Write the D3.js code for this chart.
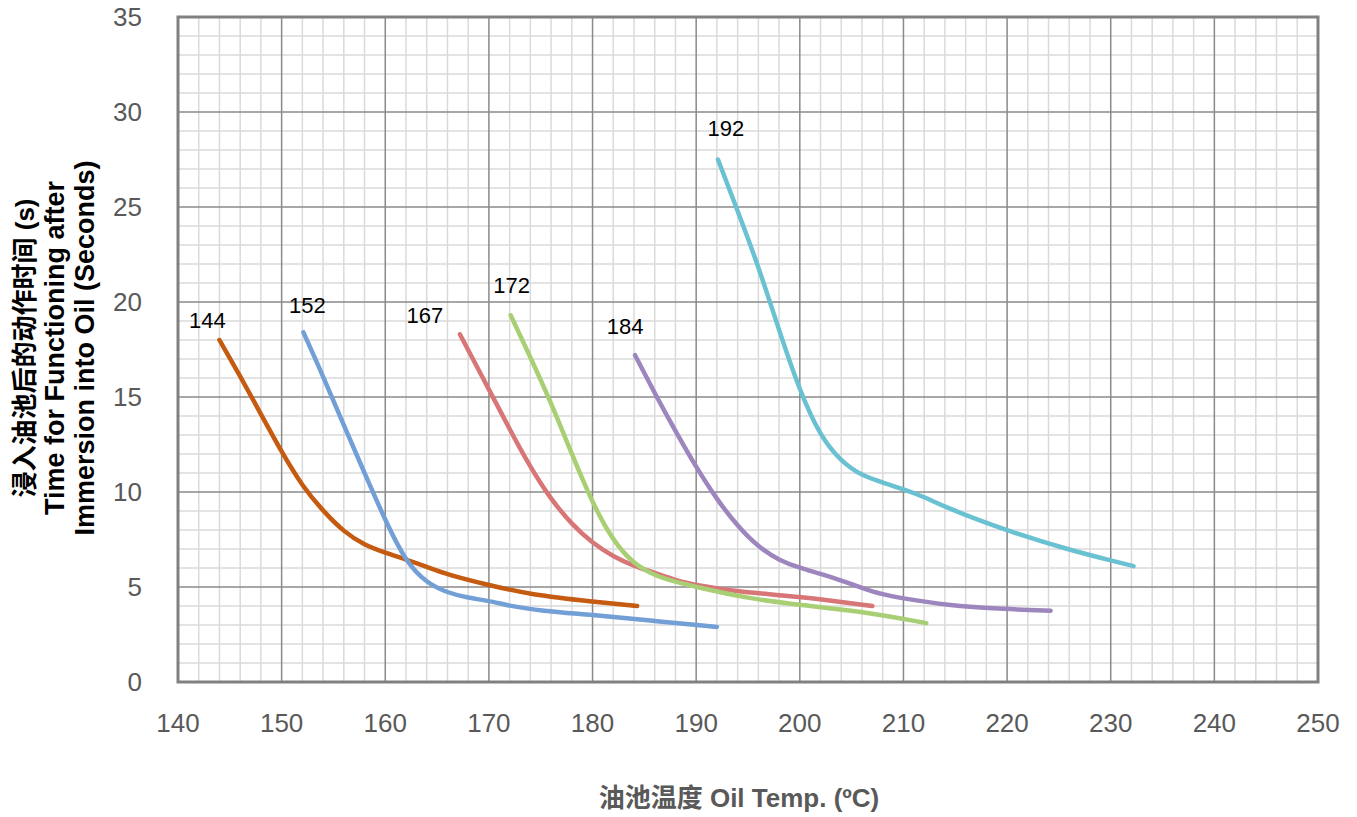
<!DOCTYPE html>
<html lang="zh">
<head>
<meta charset="UTF-8">
<title>Oil immersion functioning time</title>
<script src="https://cdnjs.cloudflare.com/ajax/libs/d3/7.8.5/d3.min.js"></script>
<style>
  body { margin: 0; background: #fff; }
  svg { display: block; font-family: "Liberation Sans", Arial, sans-serif; }
</style>
</head>
<body>
<div id="chart"></div>
<script>
// series data (temperature in degC, time in s)
const t144 = [144, 146, 148, 150, 152, 154, 156, 158, 160, 162, 164, 166, 170, 174, 180, 184.3];
const v144 = [18.0, 16.1, 14.1, 12.1, 10.3, 9.0, 7.9, 7.2, 6.8, 6.45, 6.07, 5.65, 5.1, 4.6, 4.23, 4.0];

const t152 = [152.1, 154, 156, 158, 160, 162, 164, 166, 168, 170, 172, 175, 180, 185, 192];
const v152 = [18.4, 16.1, 13.5, 11.0, 8.5, 6.3, 5.2, 4.7, 4.42, 4.28, 4.0, 3.75, 3.53, 3.26, 2.9];

const t167 = [167.2, 170, 172, 174, 176, 178, 180, 182, 184, 186, 188, 190, 194, 200, 207];
const v167 = [18.3, 15.4, 13.3, 11.3, 9.6, 8.3, 7.3, 6.6, 6.1, 5.75, 5.35, 5.1, 4.75, 4.5, 4.0];

const t172 = [172.1, 174, 176, 178, 180, 182, 184, 186, 188, 190, 195, 200, 206, 212.2];
const v172 = [19.3, 17.1, 14.7, 12.0, 9.4, 7.4, 6.2, 5.6, 5.28, 5.0, 4.4, 4.05, 3.72, 3.1];

const t184 = [184.1, 186, 188, 190, 192, 194, 196, 198, 200, 202, 204, 206, 208, 210, 214, 220, 224.2];
const v184 = [17.2, 15.2, 13.2, 11.3, 9.6, 8.2, 7.1, 6.4, 6.0, 5.7, 5.35, 4.95, 4.6, 4.4, 4.05, 3.83, 3.75];

const t192 = [192.1, 194, 196, 198, 200, 202, 204, 206, 208, 210, 212, 214, 220, 226, 230, 232.2];
const v192 = [27.5, 24.8, 21.9, 18.5, 15.3, 12.9, 11.6, 10.85, 10.5, 10.15, 9.75, 9.2, 7.95, 6.95, 6.4, 6.1];

const seriesNames = ["144", "152", "167", "172", "184", "192"];
const xTicks = [140, 150, 160, 170, 180, 190, 200, 210, 220, 230, 240, 250];
const yTicks = [0, 5, 10, 15, 20, 25, 30, 35];

const series = [
  { name: seriesNames[0], t: t144, v: v144 },
  { name: seriesNames[1], t: t152, v: v152 },
  { name: seriesNames[2], t: t167, v: v167 },
  { name: seriesNames[3], t: t172, v: v172 },
  { name: seriesNames[4], t: t184, v: v184 },
  { name: seriesNames[5], t: t192, v: v192 }
];

const colors = ["#c55a11", "#729fd6", "#d87577", "#a9cf74", "#9d86be", "#6ac1d2"];
// where each curve's label sits relative to its first point (px)
const labelShift = [[-12, -20], [4, -27], [-35, -19], [1, -30], [-10, -29], [8, -31]];

const W = 1357, H = 817;
const plot = { left: 178, right: 1318, top: 17, bottom: 682 };

const svg = d3.select("#chart").append("svg")
  .attr("width", W)
  .attr("height", H);

const x = d3.scaleLinear().domain([140, 250]).range([plot.left, plot.right]);
const y = d3.scaleLinear().domain([0, 35]).range([plot.bottom, plot.top]);

// minor grid
const grid = svg.append("g");
grid.selectAll(".vminor")
  .data(d3.range(140, 251, 2).filter(d => d % 10 !== 0))
  .enter().append("line")
  .attr("x1", d => x(d)).attr("x2", d => x(d))
  .attr("y1", plot.top).attr("y2", plot.bottom)
  .attr("stroke", "#dadada").attr("stroke-width", 1.5);
grid.selectAll(".hminor")
  .data(d3.range(0, 36, 1).filter(d => d % 5 !== 0))
  .enter().append("line")
  .attr("x1", plot.left).attr("x2", plot.right)
  .attr("y1", d => y(d)).attr("y2", d => y(d))
  .attr("stroke", "#dadada").attr("stroke-width", 1.5);

// major grid
grid.selectAll(".vmajor")
  .data(xTicks)
  .enter().append("line")
  .attr("x1", d => x(d)).attr("x2", d => x(d))
  .attr("y1", plot.top).attr("y2", plot.bottom)
  .attr("stroke", "#8a8a8a").attr("stroke-width", 1.5);
grid.selectAll(".hmajor")
  .data(yTicks)
  .enter().append("line")
  .attr("x1", plot.left).attr("x2", plot.right)
  .attr("y1", d => y(d)).attr("y2", d => y(d))
  .attr("stroke", "#8a8a8a").attr("stroke-width", 1.5);

svg.append("rect")
  .attr("x", plot.left).attr("y", plot.top)
  .attr("width", plot.right - plot.left)
  .attr("height", plot.bottom - plot.top)
  .attr("fill", "none")
  .attr("stroke", "#808080")
  .attr("stroke-width", 3);

// tick labels
svg.append("g").selectAll("text")
  .data(xTicks)
  .enter().append("text")
  .attr("x", d => x(d))
  .attr("y", plot.bottom + 50)
  .attr("text-anchor", "middle")
  .attr("font-size", 26)
  .attr("fill", "#595959")
  .text(d => d);

svg.append("g").selectAll("text")
  .data(yTicks)
  .enter().append("text")
  .attr("x", plot.left - 36)
  .attr("y", d => y(d))
  .attr("dy", "0.36em")
  .attr("text-anchor", "end")
  .attr("font-size", 26)
  .attr("fill", "#595959")
  .text(d => d);

// curves
const line = d3.line()
  .x(d => x(d[0]))
  .y(d => y(d[1]))
  .curve(d3.curveBasis);

series.forEach((s, i) => {
  const pts = s.t.map((t, j) => [t, s.v[j]]);
  svg.append("path")
    .attr("d", line(pts))
    .attr("fill", "none")
    .attr("stroke", colors[i])
    .attr("stroke-width", 4.5)
    .attr("stroke-linecap", "round");

  svg.append("text")
    .attr("x", x(s.t[0]) + labelShift[i][0])
    .attr("y", y(s.v[0]) + labelShift[i][1])
    .attr("dy", "0.35em")
    .attr("text-anchor", "middle")
    .attr("font-size", 22)
    .attr("fill", "#000")
    .text(s.name);
});

// axis titles
svg.append("text")
  .attr("x", 739)
  .attr("y", 807)
  .attr("text-anchor", "middle")
  .attr("font-size", 26)
  .attr("font-weight", "bold")
  .attr("fill", "#595959")
  .style("font-family", "'Liberation Sans', 'Noto Sans CJK SC', sans-serif")
  .text("油池温度 Oil Temp. (ºC)");

const yTitle = svg.append("text")
  .attr("transform", "translate(55,348) rotate(-90)")
  .attr("text-anchor", "middle")
  .attr("font-size", 27)
  .attr("font-weight", "bold")
  .attr("fill", "#000")
  .style("font-family", "'Liberation Sans', 'Noto Sans CJK SC', sans-serif");
["浸入油池后的动作时间 (s)", "Time for Functioning after", "Immersion into Oil (Seconds)"]
  .forEach((t, i) => {
    yTitle.append("tspan")
      .attr("x", 0)
      .attr("y", (i - 1) * 30)
      .attr("dy", "0.35em")
      .attr("font-size", i === 0 ? 26 : 27)
      .text(t);
  });
</script>
</body>
</html>
